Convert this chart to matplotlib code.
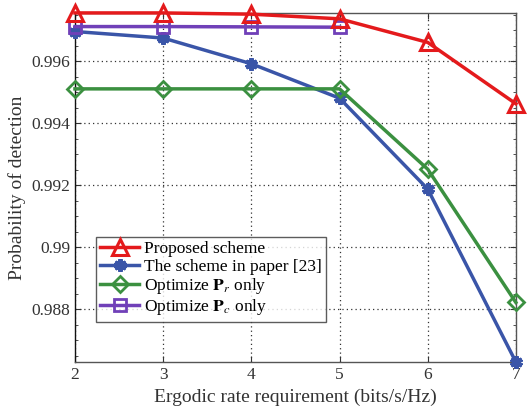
import matplotlib
matplotlib.use("Agg")
import matplotlib.pyplot as plt
from matplotlib.ticker import MultipleLocator

plt.rcParams['font.family'] = ['Liberation Serif', 'DejaVu Serif']
plt.rcParams['mathtext.fontset'] = 'stix'

rate = [2, 3, 4, 5, 6, 7]
proposed = [0.99756, 0.99756, 0.99752, 0.99737, 0.99661, 0.99463]
paper23 = [0.99696, 0.99675, 0.99592, 0.99481, 0.99188, 0.98630]
opt_pr = [0.99511, 0.99511, 0.99511, 0.99511, 0.99252, 0.98822]
rate_pc = [2, 3, 4, 5]
opt_pc = [0.99712, 0.99712, 0.99711, 0.99710]

labels = ['Proposed scheme', 'The scheme in paper [23]',
          r'Optimize $\mathbf{P}_r$ only', r'Optimize $\mathbf{P}_c$ only']
yticks = [0.988, 0.990, 0.992, 0.994, 0.996]
ytick_labels = ['0.988', '0.99', '0.992', '0.994', '0.996']

fig = plt.figure(figsize=(5.28, 4.17), dpi=100)
ax = fig.add_axes([0.142, 0.132, 0.835, 0.837])

red = '#e41a1c'
blue = '#3a55a8'
green = '#3b9040'
purple = '#7040b8'

ax.plot(rate, proposed, color=red, lw=2.5, marker='^', ms=11, mfc='none', mew=2.2, label=labels[0], zorder=5, clip_on=False)
ax.plot(rate, paper23, color=blue, lw=2.5, marker=(6, 2, 0), ms=9, mew=3, label=labels[1], zorder=3, clip_on=False)
ax.plot(rate, opt_pr, color=green, lw=2.5, marker='D', ms=8, mfc='none', mew=2, label=labels[2], zorder=4, clip_on=False)
ax.plot(rate_pc, opt_pc, color=purple, lw=2.5, marker='s', ms=8, mfc='none', mew=2, label=labels[3], zorder=4, clip_on=False)

ax.set_xlim(min(rate), max(rate))
ax.set_ylim(min(paper23), max(proposed))
ax.set_xticks(rate)
ax.set_yticks(yticks)
ax.set_yticklabels(ytick_labels)
ax.yaxis.set_minor_locator(MultipleLocator(0.0005))
ax.grid(True, which='major', linestyle=(0, (1, 2.5)), color='#333333', lw=0.9)
ax.tick_params(which='both', direction='in', top=True, right=True, labelsize=12.5, colors='#333333')
ax.tick_params(which='major', length=4)
ax.tick_params(which='minor', length=2.5)
for s in ax.spines.values():
    s.set_color('#555555')
    s.set_linewidth(1.0)
ax.spines['left'].set_color('#111111')
ax.spines['bottom'].set_color('#555555')

ax.set_xlabel('Ergodic rate requirement (bits/s/Hz)', fontsize=14, color='#333333')
ax.set_ylabel('Probability of detection', fontsize=14, color='#333333')

leg = ax.legend(loc='lower left', bbox_to_anchor=(0.048, 0.115), fontsize=12.5, frameon=True,
                fancybox=False, edgecolor='#333333', handlelength=2.2, borderpad=0.25,
                labelspacing=0.08, handletextpad=0.3, borderaxespad=0)
leg.get_frame().set_linewidth(1.0)
leg.set_zorder(10)

fig.savefig('out.png', dpi=100)
